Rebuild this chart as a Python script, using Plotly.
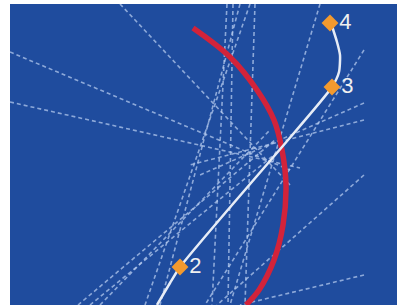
import plotly.graph_objects as go

# dashed lines of position (pixel-like coordinates of the diagram)
dash_x0 = [120, 10, 10, 227, 233, 250, 255, 320, 364, 364, 364, 364, 78, 90, 100, 240, 364]
dash_y0 = [4, 52, 102, 4, 4, 4, 4, 4, 50, 103, 175, 275, 305, 305, 305, 4, 120]
dash_x1 = [290, 290, 300, 212, 228, 145, 245, 230, 205, 200, 217, 240, 275, 280, 270, 160, 190]
dash_y1 = [185, 170, 168, 305, 305, 305, 305, 305, 305, 175, 305, 305, 140, 150, 130, 305, 165]

# estimated track (white) and points
track_x = [157, 170, 180, 232, 282, 332, 339, 340, 337, 331]
track_y = [305, 283, 267, 205, 147, 87, 72, 55, 42, 23]
pt_x = [180, 332, 330]
pt_y = [267, 87, 23]
pt_labels = ["2", "3", "4"]

# red arc
arc_x = [193, 230, 257, 274, 282, 286, 283, 274, 259, 246]
arc_y = [28, 57, 90, 120, 150, 185, 225, 260, 290, 305]

fig = go.Figure()

lx, ly = [], []
for a, b, c, d in zip(dash_x0, dash_y0, dash_x1, dash_y1):
    lx += [a, c, None]
    ly += [b, d, None]
fig.add_trace(go.Scatter(x=lx, y=ly, mode="lines",
                         line=dict(color="rgba(185,205,240,0.72)", width=1.6, dash="4px,3px"),
                         hoverinfo="skip"))

fig.add_trace(go.Scatter(x=arc_x, y=arc_y, mode="lines",
                         line=dict(color="#d2233a", width=5.5, shape="spline", smoothing=1.0),
                         hoverinfo="skip"))

fig.add_trace(go.Scatter(x=track_x, y=track_y, mode="lines",
                         line=dict(color="#e6ecf6", width=2.5, shape="spline", smoothing=0.6),
                         hoverinfo="skip"))

fig.add_trace(go.Scatter(x=pt_x, y=pt_y, mode="markers+text",
                         marker=dict(symbol="diamond", size=13, color="#f39a2e"),
                         text=pt_labels, textposition="middle right",
                         textfont=dict(color="#f0f0f0", size=22, family="Liberation Sans"),
                         hoverinfo="skip"))

fig.update_layout(
    width=397, height=305,
    margin=dict(l=10, r=0, t=4, b=0),
    paper_bgcolor="white",
    plot_bgcolor="#1f4c9e",
    showlegend=False,
    xaxis=dict(range=[10, 397], visible=False, fixedrange=True),
    yaxis=dict(range=[305, 4], visible=False, fixedrange=True),
)

fig.write_html("out.html", config={"displayModeBar": False},
               post_script="document.body.style.margin='0';document.body.style.overflow='hidden';")
